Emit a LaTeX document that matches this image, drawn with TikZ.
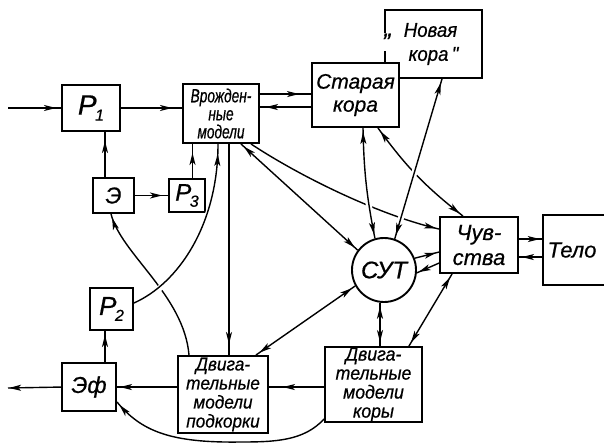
\documentclass[tikz,border=0pt]{standalone}
\usepackage{fontspec}
\setmainfont{Liberation Sans}[FakeBold=0.6]
\newfontfamily\gC{Liberation Sans}[FakeStretch=0.72,FakeBold=0.6]
\newfontfamily\gM{Liberation Sans}[FakeStretch=0.93,FakeBold=0.6]
\usetikzlibrary{arrows.meta,decorations.markings,calc}
\newcommand\myfz[2]{\itshape\fontsize{#1}{#2}\selectfont}
\newcommand\myP[1]{P\kern-1.5pt\raisebox{-6pt}{\myfz{16}{16}#1}}
\tikzset{
  ah/.tip={Stealth[length=12pt,width=6pt,inset=3pt]},
  box/.style={draw, line width=1.9pt, rectangle, inner sep=0pt, align=center, fill=white},
  sz/.style 2 args={minimum width=#1pt, minimum height=#2pt},
  con/.style={line width=1.4pt},
  fw/.style={postaction={decorate}, decoration={markings, mark=at position -#1 with {\arrow{ah}}}},
  fw/.default=4pt,
  bi/.style={postaction={decorate}, decoration={markings, mark=at position -#1 with {\arrow{ah}}, mark=at position #1 with {\arrowreversed{ah}}}},
  bi/.default=4pt,
  halo/.style={preaction={draw=white, line width=6pt, shorten <=8pt, shorten >=8pt}},
}
\begin{document}
\begin{tikzpicture}[x=1pt,y=-1pt]
\useasboundingbox (0,0) rectangle (604,444);
% ---------- nodes
\node[box, sz={58}{46}, font=\myfz{28}{28}] (p1) at (91,108) {\myP{1}};
\node[box, sz={76}{59}, font={\gC\myfz{19}{18}}] (vr) at (221,113.5) {Врожден-\\ные\\модели};
\node[box, sz={97}{68}, font={\gM\myfz{20}{24}}] (new) at (433.5,44) {\hspace*{-6pt}Новая\\кора\,"};
\node[fill=white, inner sep=0.5pt, font=\myfz{24}{24}] (q) at (386,42) {"};
\node[box, sz={87}{64}, font=\myfz{21}{23}] (old) at (355.5,95) {Старая\\кора};
\node[box, sz={41}{35}, font=\myfz{23}{24}] (e) at (113.5,195.5) {Э};
\node[box, sz={36}{33}, font=\myfz{24}{24}] (p3) at (187,195.5) {\myP{3}};
\node[draw, circle, line width=1.9pt, minimum size=64pt, inner sep=0pt, font=\myfz{24}{24}] (sut) at (384,270) {СУТ};
\node[box, sz={78}{56}, font=\myfz{22}{25}] (ch) at (479,245) {Чув-\\ства};
\node[sz={58}{70}, inner sep=0pt, font=\myfz{22}{24}] (telo) at (572,250) {Тело};
\node[box, sz={43}{42}, font=\myfz{26}{26}] (p2) at (111.5,309) {\myP{2}};
\node[box, sz={54}{48}, font=\myfz{23}{24}] (ef) at (89,387) {Эф};
\node[box, sz={90}{77}, font={\gM\myfz{18.5}{19}}] (dp) at (223,394.5) {Двига-\\тельные\\модели\\подкорки};
\node[box, sz={97}{75}, font={\gM\myfz{19}{19}}] (dk) at (373.5,384.5) {Двига-\\тельные\\модели\\коры};
\draw[line width=1.9pt] ([xshift=6pt]telo.north east) -- (telo.north west) -- (telo.south west) -- ([xshift=6pt]telo.south east);
% ---------- connectors
\coordinate (inL) at (8,108);
\draw[con,fw=5pt] (inL) -- (p1.west);
\draw[con,fw=10pt] (p1.east) -- (p1.east -| vr.west);
\coordinate (a1) at ($(vr.north east)+(0,11)$);
\coordinate (a2) at ($(vr.north east)+(0,24)$);
\draw[con,fw=12pt] (a1) -- (a1 -| old.west);
\draw[con,fw=6pt] (a2 -| old.west) -- (a2);
\draw[con,fw=9pt] ([xshift=-8.5pt]e.north) -- ([xshift=-8.5pt]e.north |- p1.south);
\draw[con,fw=6pt] (e.east) -- (e.east -| p3.west);
\draw[con,fw=9pt] ([xshift=5.5pt]p3.north) -- ([xshift=5.5pt]p3.north |- vr.south);
\draw[con,fw=4pt] ([xshift=-34pt]dp.north) .. controls +(-5,-60) and +(10,40) .. ([xshift=-2.5pt]e.south);
\draw[con,halo,fw=10pt] ([yshift=6pt]p2.east) .. controls +(45,-20) and +(0,80) .. ([xshift=-3pt]vr.south);
\draw[con,fw=11pt] ([xshift=8pt]vr.south) -- ([xshift=8pt]vr.south |- dp.north);
\draw[con,bi=4pt] ([xshift=-19pt]vr.south east) -- (sut.143);
\draw[con,fw=3pt] ([xshift=-9pt]vr.south east) .. controls +(50,33) and +(-60,-14) .. ($(ch.north west)+(0,13)$);
\draw[con,bi=4pt] ([xshift=-22pt]old.south east) to[bend right=8] ([xshift=-16pt]ch.north);
\draw[con,halo,bi=4pt] ([xshift=7.5pt]old.south) to[bend right=5] (sut.106);
\draw[con,halo,bi=4pt] (sut.71) -- ([xshift=8.5pt]new.south);
\draw[con,fw=3pt] (sut.21) -- ($(ch.north west)+(0,36)$);
\draw[con,fw=2pt] ($(ch.north west)+(0,47)$) -- (sut.-5);
\coordinate (t1) at ($(ch.north east)+(0,23)$);
\coordinate (t2) at ($(ch.north east)+(0,41)$);
\draw[con,fw=3pt] (t1) -- (t1 -| telo.west);
\draw[con,fw=3pt] (t2 -| telo.west) -- (t2);
\draw[con,bi=4pt] (sut.263) -- (sut.263 |- dk.north);
\draw[con,bi=4pt] ([xshift=-14pt]dk.north east) -- ([xshift=13pt]ch.south west);
\coordinate (m1) at ($(dk.north west)+(0,41)$);
\draw[con,fw=14pt] (m1) -- (m1 -| dp.east);
\draw[con,fw=3pt] (m1 -| dp.west) -- (m1 -| ef.east);
\coordinate (outL) at (8,388);
\draw[con,fw=1pt] (m1 -| ef.west) -- (outL);
\draw[con,fw=4pt] ([xshift=16pt]ef.north) -- ([xshift=16pt]ef.north |- p2.south);
\coordinate (bot) at (240,442);
\draw[con,fw=4pt] ($(dk.south west)+(0,-4)$) .. controls +(-20,22) and +(35,0) .. (bot) .. controls +(-70,1) and +(24,29) .. ($(ef.south east)+(0,-10)$);
\draw[con,bi=4pt] (sut.209) -- ([xshift=-13pt]dp.north east);
\end{tikzpicture}
\end{document}
